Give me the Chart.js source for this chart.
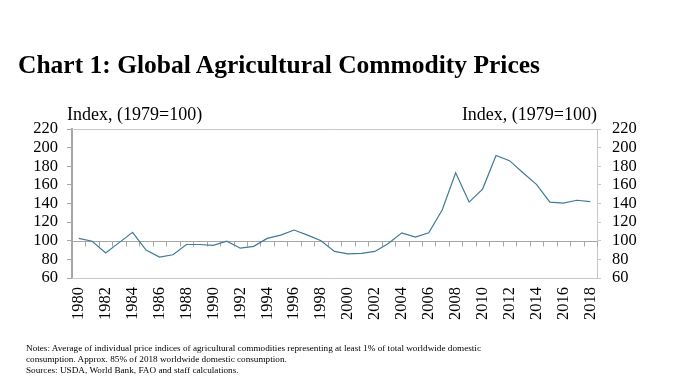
<!DOCTYPE html>
<html>
<head>
<meta charset="utf-8">
<script src="https://cdn.jsdelivr.net/npm/chart.js@4"></script>
<style>
html,body{margin:0;padding:0;background:#fff;}
#wrap{position:relative;width:682px;height:383px;overflow:hidden;font-family:"Liberation Serif","DejaVu Serif",serif;color:#000;}
canvas{position:absolute;left:0;top:0;}
.t{position:absolute;white-space:nowrap;line-height:1;}
#title{left:18px;top:52px;font-size:25.5px;font-weight:bold;}
#lbl1{left:67px;top:105px;font-size:18px;}
#lbl2{right:85px;top:105px;font-size:18px;}
#notes{left:26px;top:343px;font-size:9.2px;line-height:11px;}
</style>
</head>
<body>
<div id="wrap">
<canvas id="c" width="682" height="383"></canvas>
<div class="t" id="title">Chart 1: Global Agricultural Commodity Prices</div>
<div class="t" id="lbl1">Index, (1979=100)</div>
<div class="t" id="lbl2">Index, (1979=100)</div>
<div class="t" id="notes">Notes: Average of individual price indices of agricultural commodities representing at least 1% of total worldwide domestic<br>consumption. Approx. 85% of 2018 worldwide domestic consumption.<br>Sources: USDA, World Bank, FAO and staff calculations.</div>
</div>
<script>
const years = ["1980","1981","1982","1983","1984","1985","1986","1987","1988","1989",
"1990","1991","1992","1993","1994","1995","1996","1997","1998","1999",
"2000","2001","2002","2003","2004","2005","2006","2007","2008","2009",
"2010","2011","2012","2013","2014","2015","2016","2017","2018"];
const priceIndex = [102.5,99.5,87,98,109,90,82.5,85,96,96,
95,99.5,92,94,102.5,106,111.5,106,100,88.5,
86,86.5,88.5,97,108.5,104,108.5,133,173,141.5,
155.5,191.5,186,173,160.5,141.5,140.5,143.5,142];
const yTicks = [60,80,100,120,140,160,180,200,220];
const baseValue = 100;

const axisGray = '#a6a6a6';
const boxGray = '#c8c8c8';
const tickFont = {family:'"Liberation Serif", serif', size:16.5};

const baseLine = {
  id:'baseLine',
  beforeDatasetsDraw(chart){
    const {ctx, scales:{x,y}, chartArea:a} = chart;
    const py = Math.round(y.getPixelForValue(baseValue)) + 0.5;
    const step = x.getPixelForValue(1)-x.getPixelForValue(0);
    ctx.save();
    ctx.strokeStyle = boxGray; ctx.lineWidth = 1;
    ctx.beginPath();
    ctx.moveTo(a.left, Math.round(a.top)+0.5); ctx.lineTo(Math.round(a.right)+0.5, Math.round(a.top)+0.5);
    ctx.lineTo(Math.round(a.right)+0.5, Math.round(a.bottom)+0.5); ctx.lineTo(a.left, Math.round(a.bottom)+0.5);
    ctx.stroke();
    ctx.strokeStyle = axisGray;
    ctx.beginPath();
    ctx.moveTo(a.left, py); ctx.lineTo(a.right, py);
    for(let i=0;i<=years.length;i++){
      let px = (i<years.length) ? x.getPixelForValue(i) - step/2 : x.getPixelForValue(i-1) + step/2;
      px = Math.round(px)+0.5;
      ctx.moveTo(px, py); ctx.lineTo(px, py+5);
    }
    ctx.stroke();
    ctx.restore();
  }
};

new Chart(document.getElementById('c'), {
  type:'line',
  data:{labels:years, datasets:[{data:priceIndex, borderColor:'#3f7a99', borderWidth:1.2, pointRadius:0, tension:0, fill:false}]},
  options:{
    responsive:false, animation:false, devicePixelRatio:1,
    layout:{padding:{left:0,right:0,top:129,bottom:0}},
    plugins:{legend:{display:false}, tooltip:{enabled:false}, title:{display:false}},
    scales:{
      x:{type:'category', offset:true,
        grid:{display:false, drawTicks:false},
        border:{display:false},
        ticks:{autoSkip:false, minRotation:90, maxRotation:90, padding:9, color:'#000', font:tickFont,
          callback:(v,i)=> i%2===0 ? years[i] : ''},
        afterFit(s){ s.height = 105; }
      },
      y:{position:'left', min:60, max:220,
        afterBuildTicks(s){ s.ticks = yTicks.map(v=>({value:v})); },
        grid:{drawOnChartArea:false, drawTicks:true, tickLength:5, color:axisGray},
        border:{display:true, color:axisGray, width:2},
        ticks:{autoSkip:false, padding:9, color:'#000', font:tickFont},
        afterFit(s){ s.width = 72; }
      },
      y2:{position:'right', min:60, max:220,
        afterBuildTicks(s){ s.ticks = yTicks.map(v=>({value:v})); },
        grid:{drawOnChartArea:false, drawTicks:true, tickLength:4, color:boxGray},
        border:{display:true, color:boxGray, width:1},
        ticks:{autoSkip:false, padding:11, color:'#000', font:tickFont},
        afterFit(s){ s.width = 85; }
      }
    }
  },
  plugins:[baseLine]
});
</script>
</body>
</html>
